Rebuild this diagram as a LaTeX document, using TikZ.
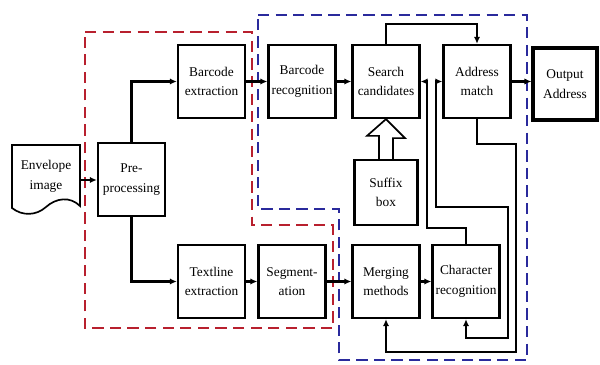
\documentclass[tikz,border=0pt]{standalone}
\usepackage{fontspec}
\setmainfont{Liberation Serif}
\usepackage{tikz}
\usetikzlibrary{arrows.meta,calc}
\definecolor{zonered}{HTML}{B8202E}
\definecolor{zoneblue}{HTML}{2A2A9C}
\tikzset{
  blockbox/.style={draw, line width=1.6pt, fill=white, minimum width=1.675cm,
    minimum height=1.825cm, align=center, inner sep=1pt,
    font=\fontsize{9.5}{14}\selectfont},
  flow/.style={line width=1.7pt, -{Latex[length=5pt,width=4.5pt]}},
  redzone/.style={draw=zonered, line width=2pt, dash pattern=on 8pt off 4.5pt},
  bluezone/.style={draw=zoneblue, line width=2pt, dash pattern=on 8pt off 4.5pt}
}

\begin{document}
\begin{tikzpicture}[x=0.025cm, y=-0.025cm]
    \useasboundingbox (0,0) rectangle (600,365);
    % dashed zones
    \draw[redzone] (85,32) -- (252,32) -- (252,225) -- (333,225) -- (333,328) -- (85,328) -- cycle;
    \draw[bluezone] (258,15) -- (527,15) -- (527,360) -- (339,360) -- (339,209) -- (258,209) -- cycle;

    % input document
    \draw[line width=1.2pt, fill=white] (12,145) -- (80,145) -- (80,206)
      .. controls (70,196) and (56,198) .. (46,207)
      .. controls (36,216) and (22,216) .. (12,208) -- cycle;
    \node[align=center, minimum width=1.7cm, inner sep=0pt,
      font=\fontsize{9.5}{14}\selectfont] (env) at (46,176) {Envelope\\image};

    % blocks
    \node[blockbox] (pre) at (131.5,179.5) {Pre-\\processing};
    \node[blockbox] (bext) at (211.5,81.5) {Barcode\\extraction};
    \node[blockbox] (brec) at (302,81.5) {Barcode\\recognition};
    \node[blockbox] (search) at (386,81.5) {Search\\candidates};
    \node[blockbox] (addr) at (477,81.5) {Address\\match};
    \node[blockbox, line width=2.2pt, minimum width=1.6cm, minimum height=1.8cm] (out) at (565,84) {Output\\Address};
    \node[blockbox, minimum width=1.575cm, minimum height=1.625cm] (suffix) at (386,192.5) {Suffix\\box};
    \node[blockbox] (text) at (211.5,281.5) {Textline\\extraction};
    \node[blockbox] (seg) at (292,281.5) {Segment-\\ation};
    \node[blockbox] (merge) at (386,281.5) {Merging\\methods};
    \node[blockbox] (char) at (466,281.5) {Character\\recognition};

    % loop points
    \coordinate (loopA) at (427,228);
    \coordinate (loopB1) at (436,207);
    \coordinate (loopB2) at (508,338);
    \coordinate (loopC) at (516,352);

    % main flow
    \draw[flow] (env.east |- 0,180) -- (pre.west |- 0,180);
    \draw[flow] (pre.north) |- (bext.west);
    \draw[flow] (pre.south) |- (text.west);
    \draw[flow] (bext) -- (brec);
    \draw[flow] (brec) -- (search);
    \draw[flow] (search.north) -- ++(0,-20) -| (addr.north);
    \draw[flow] (addr.east) -- (addr.east -| out.west);
    \draw[flow] (text) -- (seg);
    \draw[flow] (seg) -- (merge);
    \draw[flow] (merge) -- (char);

    % feedback lines
    \draw[flow] (char.north) |- (loopA) |- (search.east);
    \draw[flow, {Latex[length=5pt,width=4.5pt]}-{Latex[length=5pt,width=4.5pt]}]
      (char.south) |- (loopB2) |- (loopB1) |- (addr.west);
    \draw[flow] (addr.south) -- ++(0,25) -| (loopC) -| (merge.south);

    % hollow arrow from suffix box
    \draw[line width=1.2pt, fill=white] ($(suffix.north)+(-7,0)$) -- ++(0,-23) -- ++(-12,0)
      -- (search.south) -- ++(19,19) -- ++(-12,0) -- ($(suffix.north)+(7,0)$);
\end{tikzpicture}
\end{document}
